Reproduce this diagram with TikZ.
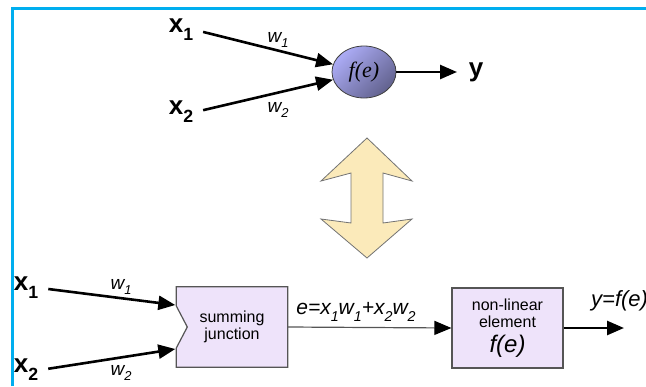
\documentclass[tikz,border=0pt]{standalone}
\usepackage{fontspec}
\usepackage{graphicx}
\setmainfont{Liberation Sans}
\newfontfamily\serifit{Liberation Serif}
\usetikzlibrary{arrows.meta,shapes.geometric,calc,backgrounds}
\definecolor{frame}{RGB}{0,174,239}
\definecolor{boxfill}{RGB}{238,227,250}
\definecolor{boxline}{RGB}{85,85,85}
\definecolor{neuron_light}{RGB}{172,172,246}
\definecolor{neuron_dark}{RGB}{98,98,142}
\definecolor{swap_light}{RGB}{255,249,226}
\definecolor{swap_dark}{RGB}{251,234,186}
\newcommand{\dn}[1]{\raisebox{-0.3em}{\scalebox{0.68}{#1}}}

\begin{document}
\begin{tikzpicture}[x=1pt,y=-1pt,
        inlabel/.style={font=\fontsize{26}{26}\selectfont\bfseries, inner sep=2pt},
        wlabel/.style={font=\fontsize{19}{19}\selectfont\itshape, inner sep=0pt},
        feed/.style={line width=2.6pt, shorten <=8pt, -{Triangle[length=17pt,width=14pt]}},
        block/.style={minimum width=111pt, minimum height=80pt, align=center,
                      font=\fontsize{16}{17}\selectfont, inner sep=0pt}
        ]
            \useasboundingbox (0,0) rectangle (646,386);
            \draw[frame, line width=3pt] (12,386) -- (12,8) -- (646,8);

            \node[inlabel] (tx1) at (181,30) {x\dn{1}};
            \node[inlabel] (tx2) at (181,112) {x\dn{2}};
            \node[ellipse, draw=black!75, line width=0.8pt, minimum width=64pt,
                  minimum height=52pt, inner sep=0pt,
                  left color=neuron_light, right color=neuron_dark, shading angle=45]
                  (neuron) at (364,72) {\fontsize{22}{22}\selectfont\serifit\itshape f(e)};
            \node[inlabel] (ty) at (476,72) {y};
            \coordinate (tout) at (457,72);
            \draw[feed] (tx1.east) -- (neuron.166);
            \draw[feed] (tx2.east) -- (neuron.194);
            \draw[line width=2.6pt, -{Triangle[length=17pt,width=14pt]}] (neuron.east) -- (tout);
            \node[wlabel] (tw1) at (278,40) {w\dn{1}};
            \node[wlabel] (tw2) at (278,110) {w\dn{2}};

            \shadedraw[draw=black!55, line width=0.8pt,
                  left color=swap_dark, middle color=swap_light, right color=swap_dark]
                  (367,138) -- (412,181) -- (383,173) -- (383,223) -- (412,219)
                  -- (367,258) -- (321,219) -- (351,223) -- (351,173) -- (321,181) -- cycle;

            \node[inlabel] (bx1) at (26,288) {x\dn{1}};
            \node[inlabel] (bx2) at (26,370) {x\dn{2}};
            \node[block] (sumj) at (232,327) {summing\\junction};
            \begin{scope}[on background layer]
                \filldraw[fill=boxfill, draw=boxline, line width=1.2pt]
                    (sumj.north west) -- (sumj.north east) -- (sumj.south east)
                    -- (sumj.south west) -- ($(sumj.west)+(0,21)$)
                    -- ($(sumj.west)+(11,0)$) -- ($(sumj.west)+(0,-21)$) -- cycle;
            \end{scope}
            \coordinate (sumin1) at ($(sumj.west)+(-1,-22)$);
            \coordinate (sumin2) at ($(sumj.west)+(-1,22)$);
            \draw[feed] (bx1.east) -- (sumin1);
            \draw[feed] (bx2.east) -- (sumin2);
            \node[wlabel] (bw1) at (121,287) {w\dn{1}};
            \node[wlabel] (bw2) at (121,373) {w\dn{2}};

            \node[block, draw=boxline, fill=boxfill, line width=1.2pt] (nonlin) at (507.5,328)
                {non-linear\\element\\[7pt]{\fontsize{24}{24}\selectfont\itshape f(e)}};
            \draw[line width=1.2pt, draw=boxline, -{Triangle[length=17pt,width=14pt,color=black]}]
                (sumj.east) -- (nonlin.west);
            \node[font=\fontsize{21}{21}\selectfont\itshape] (esum) at (356,312)
                {e=x\dn{1}w\dn{1}+x\dn{2}w\dn{2}};
            \coordinate (bout) at (624,328);
            \draw[line width=2.6pt, -{Triangle[length=17pt,width=14pt]}] (nonlin.east) -- (bout);
            \node[anchor=west, font=\fontsize{22}{22}\selectfont\itshape, inner sep=0pt]
                (yval) at (591,301) {y=f(e)};
        \end{tikzpicture}
\end{document}
